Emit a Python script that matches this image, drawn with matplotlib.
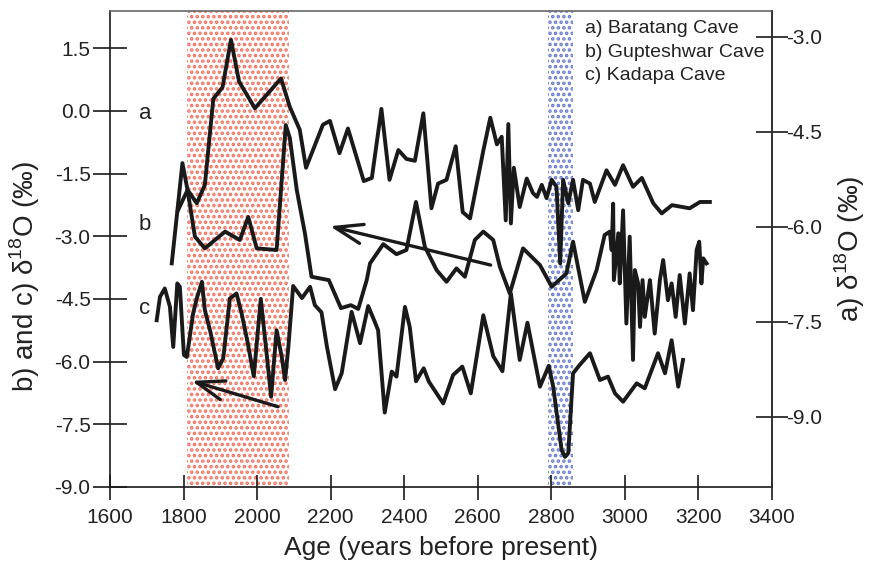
# -*- coding: utf-8 -*-
import numpy as np
import matplotlib
matplotlib.use('Agg')
import matplotlib.pyplot as plt

# a) Baratang Cave (right axis)
a_age = [1785, 1811, 1836, 1858, 1881, 1906, 1929, 1951, 1994, 2065,
         2089, 2116, 2133, 2179, 2198, 2224, 2247, 2290, 2312, 2338,
         2360, 2384, 2406, 2429, 2452, 2474, 2492, 2515, 2540, 2559,
         2579, 2615, 2634, 2652, 2665, 2676, 2683, 2690, 2698, 2714,
         2733, 2750, 2761, 2774, 2787, 2801, 2814, 2824, 2832, 2846,
         2859, 2873, 2886, 2905, 2918, 2950, 2973, 2995, 3022, 3046,
         3077, 3100, 3128, 3176, 3204, 3231]
a_d18o = [-5.74, -5.42, -5.63, -5.34, -3.98, -3.80, -3.05, -3.71, -4.13, -3.66,
          -4.11, -4.47, -5.07, -4.39, -4.33, -4.84, -4.45, -5.28, -5.23, -4.14,
          -5.26, -4.79, -4.93, -4.96, -4.21, -5.71, -5.32, -5.26, -4.73, -5.77,
          -5.87, -4.80, -4.28, -4.70, -4.58, -5.90, -4.38, -5.95, -5.07, -5.69,
          -5.24, -5.47, -5.53, -5.34, -5.55, -5.26, -5.37, -6.58, -5.26, -5.63,
          -5.26, -5.74, -5.26, -5.32, -5.61, -5.11, -5.34, -5.03, -5.37, -5.23,
          -5.63, -5.79, -5.66, -5.71, -5.61, -5.61]

# b) Gupteshwar Cave (left axis)
b_age = [1768, 1797, 1811, 1831, 1858, 1913, 1953, 1976, 1999, 2053,
         2078, 2089, 2108, 2130, 2148, 2195, 2228, 2255, 2275, 2298,
         2307, 2343, 2379, 2406, 2432, 2456, 2488, 2515, 2542, 2565,
         2592, 2615, 2642, 2660, 2687, 2723, 2769, 2801, 2841, 2859,
         2891, 2923, 2945, 2959, 2964, 2968, 2970, 2982, 2986, 2995,
         3004, 3013, 3022, 3027, 3036, 3041, 3048, 3054, 3068, 3081,
         3095, 3104, 3117, 3127, 3138, 3149, 3163, 3176, 3185, 3195,
         3202, 3208, 3213, 3222]
b_d18o = [-3.65, -1.25, -1.90, -3.01, -3.29, -2.89, -3.09, -2.54, -3.29, -3.33,
          -0.34, -0.65, -1.90, -2.93, -3.97, -4.05, -4.72, -4.65, -4.74, -4.05,
          -3.65, -3.19, -3.43, -3.33, -2.18, -3.25, -3.81, -4.09, -3.77, -3.97,
          -3.09, -2.89, -3.09, -3.73, -4.37, -3.29, -3.69, -4.21, -3.89, -3.13,
          -4.57, -3.81, -2.97, -2.89, -3.33, -2.22, -4.05, -2.93, -4.13, -2.38,
          -5.09, -3.01, -5.96, -3.81, -4.13, -5.17, -4.05, -4.93, -4.05, -5.33,
          -4.05, -3.57, -4.53, -4.13, -4.93, -3.93, -5.09, -3.89, -4.77, -3.33,
          -3.13, -4.13, -3.53, -3.65]

# c) Kadapa Cave (left axis)
c_age = [1727, 1736, 1749, 1763, 1772, 1783, 1790, 1801, 1809, 1826,
         1836, 1850, 1858, 1872, 1894, 1908, 1926, 1944, 1958, 1974,
         1991, 2010, 2024, 2038, 2053, 2067, 2076, 2085, 2098, 2122,
         2144, 2157, 2175, 2190, 2212, 2230, 2257, 2280, 2302, 2320,
         2329, 2347, 2366, 2379, 2402, 2415, 2432, 2453, 2467, 2506,
         2533, 2558, 2581, 2615, 2642, 2667, 2690, 2714, 2735, 2769,
         2793, 2805, 2828, 2837, 2846, 2859, 2877, 2905, 2932, 2954,
         2973, 2995, 3032, 3054, 3090, 3109, 3127, 3145, 3158]
c_d18o = [-5.01, -4.45, -4.25, -4.69, -5.65, -4.13, -4.21, -5.84, -5.89, -4.85,
          -4.49, -4.09, -4.77, -5.25, -6.16, -5.92, -4.49, -4.37, -4.85, -5.53,
          -6.35, -4.50, -5.65, -6.84, -5.25, -5.89, -6.44, -5.65, -4.19, -4.48,
          -4.21, -4.65, -4.82, -5.65, -6.66, -6.28, -4.81, -5.56, -4.67, -5.05,
          -5.25, -7.22, -6.24, -6.36, -4.69, -5.17, -6.47, -6.16, -6.48, -7.00,
          -6.32, -6.12, -6.76, -4.89, -5.87, -6.23, -4.37, -5.96, -5.07, -6.60,
          -6.10, -6.60, -8.12, -8.28, -8.19, -6.28, -6.08, -5.80, -6.44, -6.36,
          -6.76, -6.96, -6.52, -6.64, -5.80, -6.28, -5.49, -6.60, -5.96]

# shaded periods (years BP)
red_span = (1810, 2086)
blue_span = (2790, 2860)

# trend arrows (tail -> tip), left axis units
arrow1 = ((2635, -3.69), (2198, -2.76))
arrow2 = ((2057, -7.08), (1822, -6.46))

left_ticks = [1.5, 0.0, -1.5, -3.0, -4.5, -6.0, -7.5, -9.0]
right_ticks = [-3.0, -4.5, -6.0, -7.5, -9.0]
x_ticks = [1600, 1800, 2000, 2200, 2400, 2600, 2800, 3000, 3200, 3400]
legend_lines = ['a) Baratang Cave', 'b) Gupteshwar Cave', 'c) Kadapa Cave']

plt.rcParams['font.family'] = ['Liberation Sans', 'DejaVu Sans']
plt.rcParams['mathtext.fontset'] = 'custom'
plt.rcParams['mathtext.rm'] = 'Liberation Sans'
plt.rcParams['axes.unicode_minus'] = False
plt.rcParams['hatch.linewidth'] = 1.75

txt = '#222222'
ink = '#1a1a1a'

fig = plt.figure(figsize=(8.7, 5.62), dpi=100)
ax = fig.add_axes([0.1264, 0.1335, 0.761, 0.847])
ax2 = ax.twinx()

ax.axvspan(*red_span, facecolor='white', edgecolor='#ee7462', hatch='...', linewidth=0, zorder=0)
ax.axvspan(*blue_span, facecolor='white', edgecolor='#6a7dcc', hatch='...', linewidth=0, zorder=0)

ax.plot(b_age, b_d18o, color=ink, lw=2.8, zorder=3)
ax.plot(c_age, c_d18o, color=ink, lw=2.8, zorder=3)
ax2.plot(a_age, a_d18o, color=ink, lw=2.8, zorder=3)

for tail, tip in (arrow1, arrow2):
    ax.annotate('', xy=tip, xytext=tail,
                arrowprops=dict(arrowstyle='->,head_length=1.0,head_width=0.35',
                                color=ink, lw=2.4, mutation_scale=20,
                                shrinkA=0, shrinkB=0), zorder=4)

ax.text(1695, -0.06, 'a', fontsize=16, color=txt, ha='center', va='center')
ax.text(1695, -2.71, 'b', fontsize=16, color=txt, ha='center', va='center')
ax.text(1695, -4.72, 'c', fontsize=16, color=txt, ha='center', va='center')

for i, s in enumerate(legend_lines):
    ax.text(0.7175, 0.963 - i * 0.0495, s, transform=ax.transAxes,
            fontsize=14, color=txt, ha='left', va='center')

ax.set_xlim(1600, 3400)
ax.set_ylim(-9.0, 2.39)
ax2.set_ylim(-10.11, -2.594)

ax.set_xticks(x_ticks)
ax.set_yticks(left_ticks)
ax.set_yticklabels(['%.1f' % v for v in left_ticks])
ax2.set_yticks(right_ticks)
ax2.set_yticklabels(['%.1f' % v for v in right_ticks])

ax.tick_params(axis='x', direction='inout', length=18, width=1.2, pad=6,
               labelsize=15, colors=ink, labelcolor=txt)
ax.tick_params(axis='y', direction='inout', length=24, width=1.2, pad=2,
               labelsize=15, colors=ink, labelcolor=txt)
ax2.tick_params(axis='y', direction='inout', length=23, width=1.2, pad=-1,
                labelsize=15, colors=ink, labelcolor=txt)

for name, sp in ax.spines.items():
    sp.set_color(ink)
    sp.set_linewidth(1.2)
ax.spines['top'].set_color('#666666')
ax2.spines['top'].set_visible(False)
ax2.spines['left'].set_visible(False)
ax2.spines['bottom'].set_visible(False)
ax2.spines['right'].set_color('#333333')
ax2.spines['right'].set_linewidth(1.2)

ax.set_xlabel('Age (years before present)', fontsize=19, color=txt)
ax.xaxis.set_label_coords(0.5, -0.103)
ax.set_ylabel('b) and c) δ$^{18}$O (‰)', fontsize=20, color=txt)
ax.yaxis.set_label_coords(-0.102, 0.443)
ax2.set_ylabel('a) δ$^{18}$O (‰)', fontsize=20, color=txt, rotation=90)
ax2.yaxis.set_label_coords(1.092, 0.5)

fig.savefig('out.png', dpi=100)
